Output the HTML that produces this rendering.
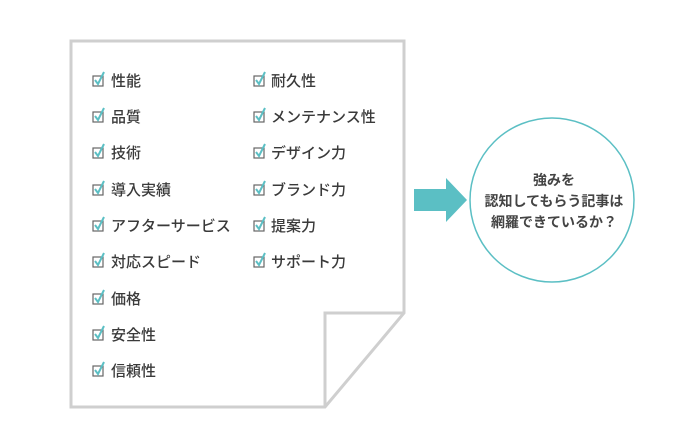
<!DOCTYPE html>
<html><head><meta charset="utf-8"><style>
body{margin:0;background:#fff;}
svg text{font-family:"Liberation Sans","Noto Sans CJK JP",sans-serif;}
</style></head><body>
<svg width="698" height="442" viewBox="0 0 698 442" xmlns="http://www.w3.org/2000/svg">
<path d="M71,41 H404 V313 L325,407 H71 Z" fill="#fff" stroke="#cfcfcf" stroke-width="3"/>
<path d="M325,407 V313 H404" fill="none" stroke="#cfcfcf" stroke-width="3"/>
<defs>
<g id="cb"><rect x="0" y="-6" width="10" height="10" fill="none" stroke="#666" stroke-width="1.2"/><path d="M2,-2 L5,2 L11,-10" fill="none" stroke="#5bbfc4" stroke-width="2"/></g>
</defs>
<g font-size="15" fill="#3a3a3a" font-weight="500">
<use href="#cb" x="93" y="82"/><text x="111" y="86">性能</text>
<use href="#cb" x="93" y="118"/><text x="111" y="122">品質</text>
<use href="#cb" x="93" y="154"/><text x="111" y="158">技術</text>
<use href="#cb" x="93" y="191"/><text x="111" y="195">導入実績</text>
<use href="#cb" x="93" y="227"/><text x="111" y="231">アフターサービス</text>
<use href="#cb" x="93" y="263"/><text x="111" y="267">対応スピード</text>
<use href="#cb" x="93" y="300"/><text x="111" y="304">価格</text>
<use href="#cb" x="93" y="336"/><text x="111" y="340">安全性</text>
<use href="#cb" x="93" y="372"/><text x="111" y="376">信頼性</text>
<use href="#cb" x="254" y="82"/><text x="271" y="86">耐久性</text>
<use href="#cb" x="254" y="118"/><text x="271" y="122">メンテナンス性</text>
<use href="#cb" x="254" y="154"/><text x="271" y="158">デザイン力</text>
<use href="#cb" x="254" y="191"/><text x="271" y="195">ブランド力</text>
<use href="#cb" x="254" y="227"/><text x="271" y="231">提案力</text>
<use href="#cb" x="254" y="263"/><text x="271" y="267">サポート力</text>
</g>
<path d="M414,189 H446 V178 L467,200 L446,222 V211 H414 Z" fill="#5bbfc4"/>
<circle cx="552" cy="200" r="82" fill="#fff" stroke="#5bbfc4" stroke-width="1.5"/>
<g font-size="14" font-weight="bold" fill="#444" text-anchor="middle">
<text x="554" y="185">強みを</text>
<text x="554" y="206">認知してもらう記事は</text>
<text x="554" y="227">網羅できているか？</text>
</g>
</svg>
</body></html>
